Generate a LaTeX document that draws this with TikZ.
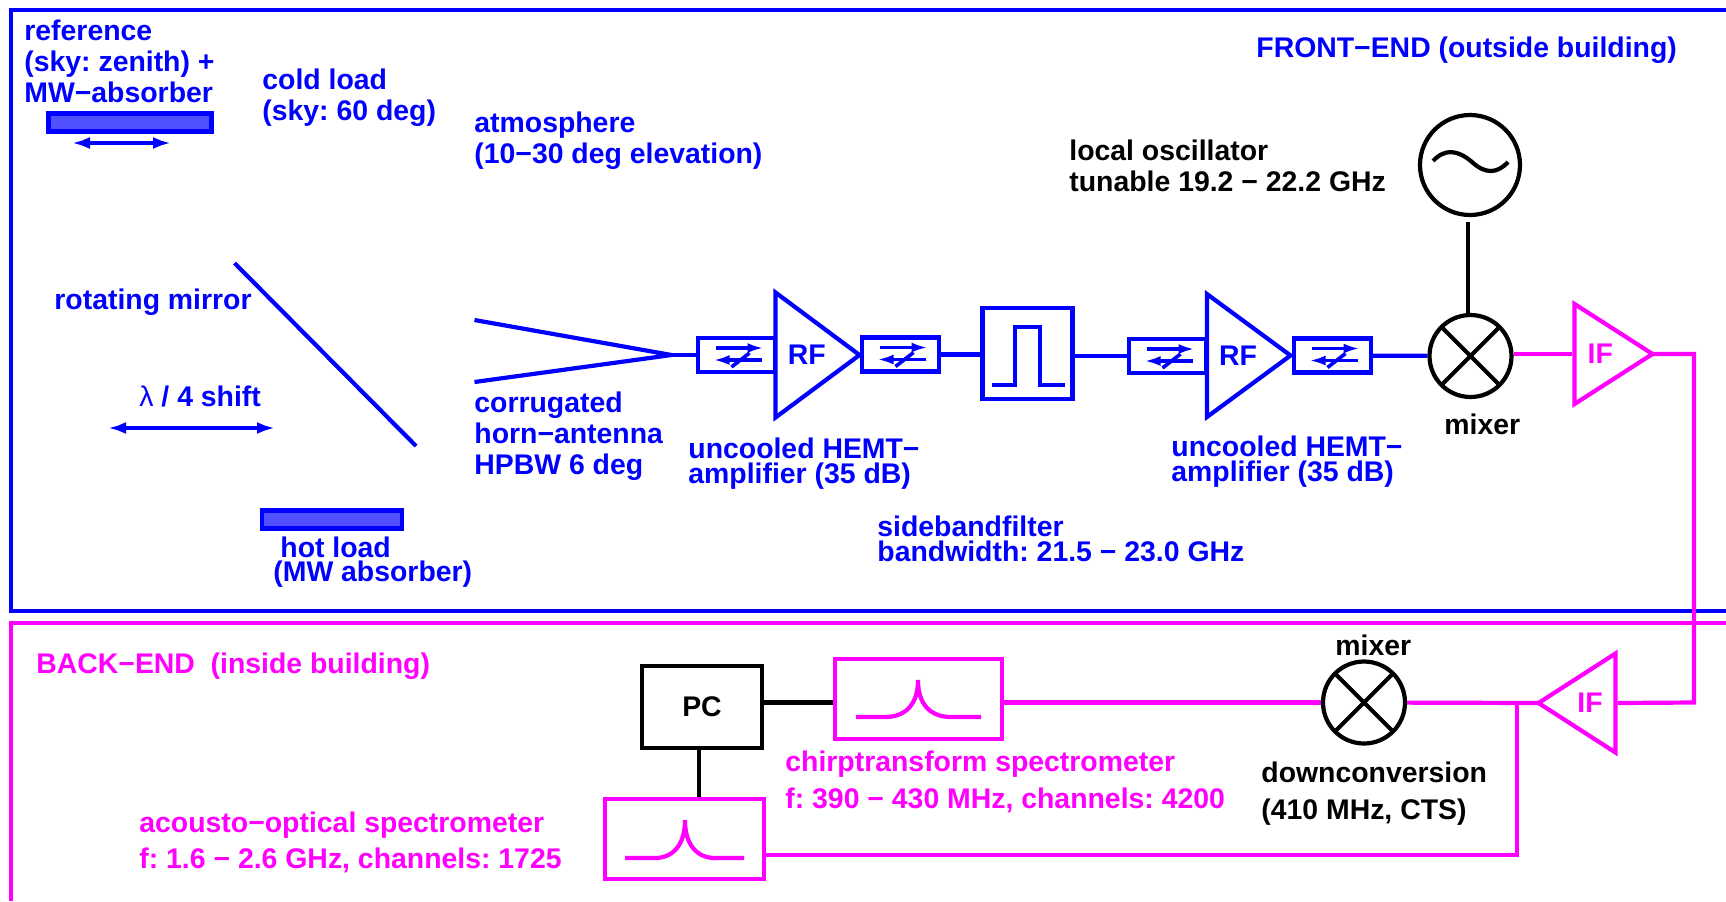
\documentclass[tikz,border=0pt]{standalone}
\usepackage{fontspec}
\setmainfont{Liberation Sans}
\usetikzlibrary{arrows.meta,shapes.geometric}
\definecolor{blue}{HTML}{0000FF}
\definecolor{magenta}{HTML}{FF00FF}
\definecolor{plate}{HTML}{5050FF}
\tikzset{
  txt/.style={anchor=base west,align=left,inner sep=0pt,
    font=\frenchspacing\bfseries\fontsize{14.2}{15.5}\selectfont},
  tight/.style={txt,font=\frenchspacing\bfseries\fontsize{14.2}{12.3}\selectfont},
  box/.style={draw,line width=2.1pt,inner sep=0pt,font=\bfseries\fontsize{14.2}{15.5}\selectfont},
  load/.style={box,draw=blue,fill=plate},
  isobox/.style={box,draw=blue,minimum width=38.5pt,minimum height=17pt},
  ampl/.style={isosceles triangle,isosceles triangle stretches,draw,line width=2.1pt,
    inner sep=0pt,anchor=apex,font=\bfseries\fontsize{14.2}{15.5}\selectfont},
  mix/.style={circle,draw=black,line width=2.1pt,minimum size=41pt,inner sep=0pt,
    path picture={\draw[line width=2.1pt]
      (path picture bounding box.north west)--(path picture bounding box.south east)
      (path picture bounding box.north east)--(path picture bounding box.south west);}},
  wire/.style={line width=2.1pt},
  arr/.style={{Latex[length=9pt,width=6pt]}-{Latex[length=9pt,width=6pt]},line width=1.8pt,blue},
  isoarrows/.pic={
    \draw[-{Latex[length=8pt,width=5pt]},line width=1.8pt,blue] (-21,-7)--(27,-7);
    \draw[-{Latex[length=8pt,width=5pt]},line width=1.8pt,blue] (25,5)--(-23,5);
    \draw[line width=1.8pt,blue] (-5,12)--(13,-2);
  }
}
\begin{document}
\begin{tikzpicture}[x=0.5pt,y=-0.5pt]
  \useasboundingbox (0,0) rectangle (1726,901);
  % frames
  \draw[blue,line width=2.2pt] (1726,10)--(11,10)--(11,611)--(1726,611);
  \draw[magenta,line width=2pt] (11,901)--(11,623)--(1726,623);

  % front-end labels
  \node[txt,blue] (reflabel) at (24,102) {reference\\(sky: zenith) +\\MW−absorber};
  \node[txt,blue] (coldlabel) at (262,120) {cold load\\(sky: 60 deg)};
  \node[txt,blue] (atmolabel) at (474,163) {atmosphere\\(10−30 deg elevation)};
  \node[txt,blue] (frontlabel) at (1256,57) {FRONT−END (outside building)};
  \node[txt,blue] (mirrorlabel) at (54,309) {rotating mirror};
  \node[txt,blue] (shiftlabel) at (139,406) {{\mdseries λ} / 4 shift};
  \node[txt,blue] (hornlabel) at (474,474) {corrugated\\horn−antenna\\HPBW 6 deg};
  \node[tight,blue] (hemtA) at (688,483) {uncooled HEMT−\\amplifier (35 dB)};
  \node[tight,blue] (hemtB) at (1171,481) {uncooled HEMT−\\amplifier (35 dB)};
  \node[tight,blue] (filterlabel) at (877,561) {sidebandfilter\\bandwidth: 21.5 − 23.0 GHz};
  \node[tight,blue] (hotA) at (280,557) {hot load};
  \node[tight,blue] (hotB) at (273,581) {(MW absorber)};
  \node[txt] (lolabel) at (1069,191) {local oscillator\\tunable 19.2 − 22.2 GHz};
  \node[txt] (mixAlabel) at (1444,434) {mixer};

  % loads and mirror
  \node[load,minimum width=81.5pt,minimum height=9pt] (refload) at (130,122.5) {};
  \node[load,minimum width=70pt,minimum height=9pt] (hotload) at (332,519.5) {};
  \coordinate (refL) at (72,143);
  \coordinate (refR) at (171,143);
  \draw[arr] (refL)--(refR);
  \coordinate (shiftL) at (108,428);
  \coordinate (shiftR) at (275,428);
  \draw[arr] (shiftL)--(shiftR);
  \coordinate (mirrorA) at (234.5,263);
  \coordinate (mirrorB) at (416,446);
  \draw[blue,wire] (mirrorA)--(mirrorB);

  % horn
  \coordinate (hornA) at (474.5,320);
  \coordinate (hornB) at (474.5,382);
  \coordinate (horntip) at (671.5,355);
  \draw[blue,wire] (hornA)--(horntip)--(hornB);

  % RF chain
  \node[isobox] (isoA) at (736.5,355) {};
  \node[ampl,blue,minimum width=62.5pt,minimum height=42pt] (rfA) at (865,355) {RF};
  \node[isobox] (isoB) at (900.5,354.5) {};
  \node[box,draw=blue,minimum width=45pt,minimum height=45.5pt] (filter) at (1027.5,353.5) {};
  \node[isobox] (isoC) at (1167.5,356) {};
  \node[ampl,blue,minimum width=61.5pt,minimum height=41.8pt] (rfB) at (1296,355.5) {RF};
  \node[isobox] (isoD) at (1332.5,355.5) {};
  \node[mix] (mixA) at (1470.5,356) {};
  \node[circle,draw=black,line width=2.1pt,minimum size=50pt,inner sep=0pt] (lo) at (1470,165) {};
  \pic at (isoA) {isoarrows};
  \pic at (isoB) {isoarrows};
  \pic at (isoC) {isoarrows};
  \pic at (isoD) {isoarrows};
  \draw[blue,wire] (992,385)--(1015,385)--(1015,327)--(1040,327)--(1040,385)--(1065,385);
  \draw[wire] (1433,161) .. controls (1445,148) and (1458,150) .. (1472,162)
    .. controls (1485,174) and (1497,174) .. (1508,162);
  \draw[blue,wire] (horntip)--(isoA);
  \draw[blue,wire] (isoB)--(filter.west |- isoB);
  \draw[blue,wire] (filter.east |- isoC)--(isoC);
  \draw[blue,wire] (isoD)--(mixA);
  \draw[wire,shorten <=2.5pt] ([xshift=-1pt]lo.south)--([xshift=-1pt]lo.south |- mixA.north);

  % IF chain
  \node[ampl,magenta,minimum width=50pt,minimum height=39pt] (ifA) at (1658,354) {IF};
  \node[ampl,magenta,shape border rotate=180,minimum width=49.5pt,minimum height=38.5pt] (ifB) at (1533,703) {IF};
  \node[mix] (mixB) at (1364,702.5) {};
  \node[box,draw=magenta,minimum width=83.5pt,minimum height=40pt] (cts) at (918.5,699) {};
  \node[box,draw=magenta,minimum width=79.5pt,minimum height=40pt] (aos) at (684.5,839) {};
  \node[box,minimum width=60pt,minimum height=41pt] (pc) at (702,707) {PC};
  \coordinate (ifcorner) at (1694,702.5);
  \coordinate (split) at (1517,702.5);
  \coordinate (splitlow) at (1517,855);
  \coordinate (pcdrop) at (699,748);
  \draw[magenta,wire] (mixA.east |- ifA.lower side)--(ifA.lower side);
  \draw[magenta,wire] ([xshift=-3pt]ifA.apex)-|(ifcorner)--(ifB.lower side);
  \draw[magenta,wire] ([xshift=3pt]ifB.apex)--(mixB);
  \draw[magenta,wire] (mixB)--(cts.east |- mixB);
  \draw[magenta,wire] (split)--(splitlow)--(aos.east |- splitlow);
  \draw[wire] (pc.east |- mixB)--(cts.west |- mixB);
  \draw[wire] (pcdrop)--(pcdrop |- aos.north);
  % spectrometer curves
  \draw[magenta,wire] (856,717)--(885,717) .. controls (905,717) and (918,705) .. (918,680)
    .. controls (918,705) and (931,717) .. (951,717)--(981,717);
  \draw[magenta,wire] (625,858)--(655,858) .. controls (672,858) and (685,846) .. (685,820)
    .. controls (685,846) and (698,858) .. (715,858)--(744,858);

  % back-end labels
  \node[txt,magenta] (backlabel) at (36,673) {BACK−END\ \ (inside building)};
  \node[txt] (mixBlabel) at (1335,655) {mixer};
  \node[txt] (downlabel) at (1261,782) {downconversion};
  \node[txt] (downinfo) at (1261,819) {(410 MHz, CTS)};
  \node[txt,magenta] (ctsA) at (785,771) {chirptransform spectrometer};
  \node[txt,magenta] (ctsB) at (785,808) {f: 390 − 430 MHz, channels: 4200};
  \node[txt,magenta] (aosA) at (139,832) {acousto−optical spectrometer};
  \node[txt,magenta] (aosB) at (139,868) {f: 1.6 − 2.6 GHz, channels: 1725};
\end{tikzpicture}
\end{document}
